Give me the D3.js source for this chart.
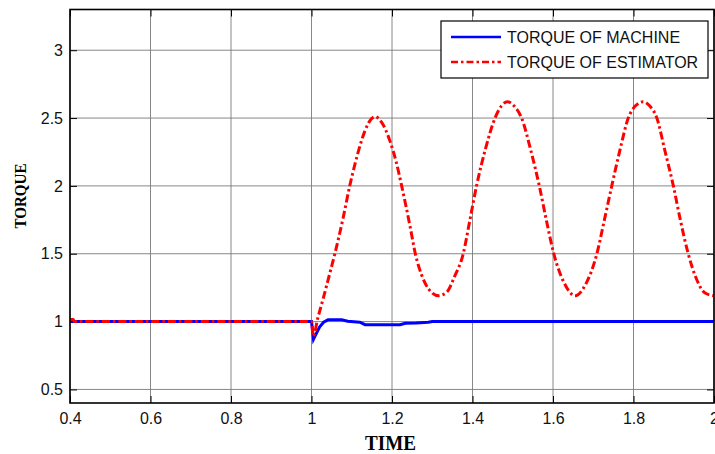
<!DOCTYPE html>
<html lang="en">
  <head>
    <meta charset="UTF-8" />
    <title>Torque of machine vs estimator</title>
    <script src="https://d3js.org/d3.v7.min.js"></script>
    <style>
      body {
        margin: 0;
        background: #fff;
      }
      svg {
        display: block;
        font-family: Arial, 'Liberation Sans', sans-serif;
      }
    </style>
  </head>
  <body>
    <div id="chart"></div>
    <script>
      // ticks
      const xTicks = [0.4, 0.6, 0.8, 1, 1.2, 1.4, 1.6, 1.8, 2];
      const yTicks = [0.5, 1, 1.5, 2, 2.5, 3];

      // [time, torque]
      const machineTorque = [
        [0.4, 1.0], [1.0, 1.0], [1.002, 0.95], [1.005, 0.87], [1.01, 0.9],
        [1.02, 0.96], [1.03, 0.995], [1.041, 1.013], [1.075, 1.013],
        [1.09, 1.003], [1.12, 0.995], [1.133, 0.977], [1.22, 0.977],
        [1.233, 0.988], [1.26, 0.99], [1.29, 0.995], [1.3, 1.0], [2.0, 1.0]
      ];

      const estimatorTorque = [
        [0.4, 1.015], [0.408, 1.015], [0.411, 1.0], [1.0, 1.0], [1.004, 0.89],
        [1.016, 1.03], [1.029, 1.17], [1.045, 1.35], [1.058, 1.5], [1.079, 1.77],
        [1.095, 2.0], [1.108, 2.16], [1.125, 2.34], [1.141, 2.46], [1.158, 2.51],
        [1.174, 2.47], [1.195, 2.33], [1.211, 2.17], [1.224, 2.0], [1.245, 1.7],
        [1.258, 1.5], [1.274, 1.34], [1.291, 1.24], [1.316, 1.19], [1.337, 1.22],
        [1.355, 1.33], [1.377, 1.5], [1.393, 1.74], [1.41, 2.0], [1.432, 2.27],
        [1.456, 2.5], [1.472, 2.59], [1.487, 2.62], [1.503, 2.59], [1.522, 2.5],
        [1.545, 2.26], [1.566, 2.0], [1.584, 1.74], [1.602, 1.5], [1.627, 1.29],
        [1.655, 1.19], [1.682, 1.28], [1.709, 1.5], [1.727, 1.74], [1.746, 2.0],
        [1.766, 2.26], [1.787, 2.5], [1.805, 2.59], [1.824, 2.62], [1.84, 2.59],
        [1.858, 2.5], [1.878, 2.26], [1.899, 2.0], [1.917, 1.74], [1.936, 1.5],
        [1.957, 1.31], [1.978, 1.21], [2.0, 1.19]
      ];

      const legendLabels = ['TORQUE OF MACHINE', 'TORQUE OF ESTIMATOR'];

      const width = 715;
      const height = 454;
      const plot = { left: 70, right: 714, top: 9.5, bottom: 403 };

      const svg = d3
        .select('#chart')
        .append('svg')
        .attr('width', width)
        .attr('height', height);

      const x = d3.scaleLinear().domain([0.4, 2]).range([plot.left, plot.right]);
      const y = d3.scaleLinear().domain([0.4, 3.3]).range([plot.bottom, plot.top]);

      svg
        .append('defs')
        .append('clipPath')
        .attr('id', 'clip')
        .append('rect')
        .attr('x', plot.left)
        .attr('y', plot.top)
        .attr('width', plot.right - plot.left)
        .attr('height', plot.bottom - plot.top);

      // grid
      const grid = svg.append('g').attr('stroke', '#7a7a7a').attr('stroke-width', 0.9);
      grid
        .selectAll('line.gx')
        .data(xTicks)
        .enter()
        .append('line')
        .attr('x1', d => x(d))
        .attr('x2', d => x(d))
        .attr('y1', plot.top)
        .attr('y2', plot.bottom);
      grid
        .selectAll('line.gy')
        .data(yTicks)
        .enter()
        .append('line')
        .attr('x1', plot.left)
        .attr('x2', plot.right)
        .attr('y1', d => y(d))
        .attr('y2', d => y(d));

      // axes, ticks pointing inwards on all four sides
      const tickLen = 7;
      svg
        .append('g')
        .attr('transform', `translate(0,${plot.bottom})`)
        .call(d3.axisBottom(x).tickValues(xTicks).tickFormat(d3.format('')).tickSize(-tickLen).tickPadding(10));
      svg
        .append('g')
        .attr('transform', `translate(${plot.left},0)`)
        .call(d3.axisLeft(y).tickValues(yTicks).tickFormat(d3.format('')).tickSize(-tickLen).tickPadding(7));
      svg
        .append('g')
        .attr('transform', `translate(0,${plot.top})`)
        .call(d3.axisTop(x).tickValues(xTicks).tickFormat('').tickSize(-tickLen));
      svg
        .append('g')
        .attr('transform', `translate(${plot.right},0)`)
        .call(d3.axisRight(y).tickValues(yTicks).tickFormat('').tickSize(-tickLen));

      svg.selectAll('.domain').remove();
      svg.selectAll('.tick line').attr('stroke', '#000').attr('stroke-width', 1);
      svg
        .selectAll('.tick text')
        .attr('fill', '#111')
        .style('font-size', '16px')
        .style('font-family', 'Arial, "Liberation Sans", sans-serif');

      // series
      const line = d3
        .line()
        .x(d => x(d[0]))
        .y(d => y(d[1]));

      const series = svg.append('g').attr('clip-path', 'url(#clip)');
      series
        .append('path')
        .datum(machineTorque)
        .attr('fill', 'none')
        .attr('stroke', '#0000ff')
        .attr('stroke-width', 3)
        .attr('d', line);
      series
        .append('path')
        .datum(estimatorTorque)
        .attr('fill', 'none')
        .attr('stroke', '#ff0000')
        .attr('stroke-width', 3)
        .attr('stroke-dasharray', '8,3,2.5,3')
        .attr('d', line.curve(d3.curveMonotoneX));

      // frame
      svg
        .append('rect')
        .attr('x', plot.left)
        .attr('y', plot.top)
        .attr('width', plot.right - plot.left)
        .attr('height', plot.bottom - plot.top)
        .attr('fill', 'none')
        .attr('stroke', '#000')
        .attr('stroke-width', 1.6);

      // legend
      const legend = svg.append('g');
      legend
        .append('rect')
        .attr('x', 441)
        .attr('y', 21)
        .attr('width', 267)
        .attr('height', 57)
        .attr('fill', '#fff')
        .attr('stroke', '#000')
        .attr('stroke-width', 1.2);
      const legendStyles = [
        { color: '#0000ff', dash: null },
        { color: '#ff0000', dash: '7,3,2.5,3' }
      ];
      legendLabels.forEach((label, i) => {
        const ly = 37 + i * 25;
        legend
          .append('line')
          .attr('x1', 451)
          .attr('x2', 501)
          .attr('y1', ly)
          .attr('y2', ly)
          .attr('stroke', legendStyles[i].color)
          .attr('stroke-width', 2.5)
          .attr('stroke-dasharray', legendStyles[i].dash);
        legend
          .append('text')
          .attr('x', 507)
          .attr('y', ly + 6)
          .attr('fill', '#111')
          .style('font-size', '16px')
          .text(label);
      });

      // axis titles
      svg
        .append('text')
        .attr('x', 390.5)
        .attr('y', 450)
        .attr('text-anchor', 'middle')
        .attr('textLength', 51)
        .attr('lengthAdjust', 'spacingAndGlyphs')
        .style('font-family', '"Liberation Serif", "DejaVu Serif", serif')
        .style('font-weight', 'bold')
        .style('font-size', '21px')
        .text('TIME');

      svg
        .append('text')
        .attr('transform', 'translate(26,196) rotate(-90)')
        .attr('text-anchor', 'middle')
        .attr('textLength', 65)
        .attr('lengthAdjust', 'spacingAndGlyphs')
        .style('font-family', '"Liberation Serif", "DejaVu Serif", serif')
        .style('font-weight', 'bold')
        .style('font-size', '17px')
        .text('TORQUE');
    </script>
  </body>
</html>
